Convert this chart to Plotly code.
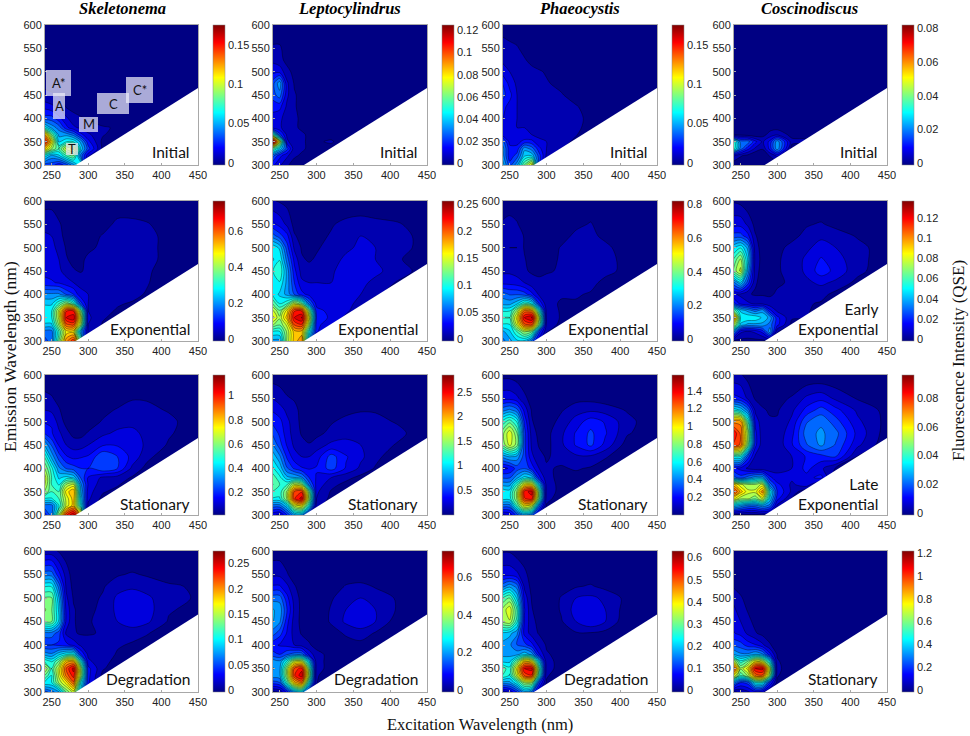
import plotly.graph_objects as go

# grid of the excitation-emission maps (nm)
excitation = [240, 250, 260, 270, 280, 290, 300, 320, 340, 360, 380, 410, 450]
emission = [300, 320, 335, 350, 365, 380, 400, 425, 450, 475, 500, 525, 550, 600]
# blank (unmeasured) corner
blank_ex = [283, 452, 452, 283]
blank_em = [300, 467, 295, 295]

# values: percent of each colour scale, one row per emission wavelength (trailing zeros left out)
skel_initial = [[20,20,15,20,30,40],[40,30,35,45,50,25,10],[70,55,45,60,65,35,20,3],[90,65,35,40,40,30,15,3,2],[75,50,30,30,25,15,10,5,2],[40,30,25,15,10,8,6,5,4,1],[20,20,15,10,6,5,4,2,1,1],[12,10,8,4,3,2,2,1,1,1,1],[5,5,4,3,2,1,1,1],[4,3,3,2,1,1],[3,3,2,1,1],[3,2,1,1],[3,2,1],[1,1]]
lept_initial = [[15,10,5,3,3,1],[25,15,10,5,4,3,2],[50,35,20,6,5,4,3,3,2],[100,60,10,6,5,4,4,5,2],[50,20,8,5,5,4,3,3,1],[12,10,6,5,4,4,3,3,2,1],[12,10,7,5,4,4,3,3,2,1,1],[15,15,8,5,3,3,2,2,1,1,1],[20,25,10,5,3,2,2,1,1,1,1],[20,30,10,4,3,2,1,1,1,1],[12,12,6,3,2,1,1],[8,6,3,2,1],[5,5,3,1],[2,2,1]]
phae_initial = [[35,20,30,50,65,20],[30,15,20,35,35,20,8],[30,15,15,30,25,15,9,5],[25,12,12,15,15,10,9,7,3],[12,10,10,10,9,8,8,7,5],[12,10,9,9,8,8,8,7,6,2],[14,10,9,9,8,8,9,8,7,2],[15,12,9,9,8,8,8,9,5,2,1],[20,15,9,8,7,7,6,5,2,1],[18,12,8,7,7,6,5,3,1],[12,9,7,6,6,5,4,3,1],[8,7,6,5,3,2,1],[7,6,5,3,2,1],[2,1,1]]
cosc_initial = [[1,1],[10,5,3,0,0,5,10],[45,25,15,8,5,15,30,2],[45,25,25,15,8,15,30,6,6],[5,3,2,1,3,6,8,3,2],[2,1,1,1,2,3,3,3,3,1],[1,1,1,0,1,1,1,1,2,1],[1,0,0,0,0,0,0,1,1,1,1],[1,0,0,0,0,0,0,0,1],[1],[1],[1],[1],[0]]

skel_expo = [[20,25,50,75,85,50],[25,25,45,65,65,30,8],[35,35,55,80,82,55,9,4],[40,40,60,90,94,60,10,5,3],[40,40,60,85,85,50,9,6,4,3],[35,35,45,55,45,20,9,6,5,4],[28,28,28,22,18,10,9,8,7,6,4],[15,14,13,11,9,8,9,9,7,6,5,1],[12,12,10,7,5,4,6,8,8,6,5,3,2],[11,11,9,5,3,3,6,7,7,7,6,3,1],[10,10,8,4,2,2,3,6,7,7,6,3,1],[10,9,6,3,2,2,2,5,7,7,6,3,1],[7,7,5,3,1,1,1,2,6,6,5,2,1],[3,3,2,1]]
lept_expo = [[30,30,55,70,75,30],[40,40,55,70,70,40,15],[55,50,60,82,85,55,15,10],[65,55,70,90,95,62,18,12,8],[60,50,65,85,85,52,15,12,10,6],[50,40,45,60,50,25,12,10,10,8],[40,35,30,22,15,12,10,10,10,9,6],[40,40,30,18,10,9,9,9,10,10,8,4],[40,45,30,15,7,6,6,8,12,12,10,7,2],[35,40,25,12,5,4,5,7,10,10,9,5,2],[40,35,20,8,4,3,4,6,8,10,9,6,3],[25,20,15,5,3,3,3,5,7,9,8,6,3],[15,12,8,3,2,1,2,4,6,7,6,5,2],[5,4,3,1,1]]
phae_expo = [[25,30,35,35,25,10],[30,35,45,55,50,20,5],[40,40,60,80,82,50,8,3],[45,45,65,90,95,58,8,4,3],[40,40,55,78,75,42,7,4,3,3],[30,30,35,45,40,18,6,4,4,3],[25,22,22,20,15,8,6,5,5,4,2],[12,12,11,9,6,6,6,6,6,6,3,1],[8,8,7,5,4,3,4,5,7,7,6,3],[8,8,8,5,2,1,3,5,7,7,6,3,1],[8,9,9,4,1,1,1,5,7,7,6,1],[7,8,8,4,1,0,1,2,6,6,3,1],[5,6,5,2,1,0,0,1,3,5,1],[2,2,1]]
cosc_early = [[4,3,3,3,3,3],[30,10,8,10,15,30,5],[60,35,30,30,30,25,15,3],[80,40,40,40,35,30,15,5,5],[50,35,30,25,30,15,8,5,5,3],[20,12,10,8,8,6,6,6,5,4],[10,8,5,4,4,4,5,5,6,6,3],[25,35,20,5,3,3,4,5,8,10,8,3],[50,60,30,6,3,3,4,6,10,16,12,6,1],[45,55,35,7,3,3,4,6,10,14,11,6,2],[35,40,30,6,3,2,3,6,8,11,9,6,2],[20,20,15,5,2,2,2,3,6,8,7,4,2],[12,12,8,3,1,1,1,2,4,5,3,2,1],[4,3,1]]

skel_stat = [[15,25,55,85,95,70],[25,25,40,60,70,40,8],[40,40,45,60,70,35,10,3],[55,45,45,65,72,32,11,5,3],[60,45,40,55,60,28,13,6,5,2],[62,45,35,38,35,22,13,8,7,4,1],[55,42,28,22,20,18,18,22,18,8,3],[45,30,20,14,12,13,14,22,18,12,6,1],[32,22,13,9,7,7,9,13,13,12,8,4],[18,14,10,6,3,3,5,8,10,10,8,5,2],[13,13,7,3,2,1,2,5,7,8,7,6,1],[9,8,5,2,1,1,1,3,5,7,6,4],[6,5,3,1,0,0,0,1,2,4,4,2],[1,1]]
lept_stat = [[10,8,18,30,30,12],[25,25,35,60,65,40,7],[40,40,55,85,92,55,9,3],[45,42,55,82,85,50,10,4,2],[50,45,45,60,55,25,12,6,3,1],[48,42,33,32,28,18,13,9,6,3,1],[42,35,23,17,14,13,14,20,13,8,4],[35,28,17,11,9,9,11,20,14,10,6,1],[28,20,13,8,6,5,7,10,10,9,7,4,1],[22,17,11,7,4,2,3,6,8,9,7,6,1],[17,15,10,7,3,1,1,4,6,7,6,4,1],[13,11,8,6,3,0,0,1,3,4,4,3],[9,7,5,4,1,0,0,0,1,2,2,1],[2,2,1]]
phae_stat = [[8,10,20,30,25,8],[25,25,45,65,60,25,4],[38,38,55,85,88,48,6,2],[40,38,55,88,92,50,7,3],[30,30,45,65,65,35,7,3,2,1],[22,22,30,38,35,15,6,3,3,2,1],[12,14,20,22,16,9,5,4,5,4,2],[28,32,30,20,10,6,4,6,8,8,5,1],[50,60,52,20,8,4,3,8,14,19,12,2],[52,62,50,20,7,3,3,8,14,19,14,5,1],[42,48,40,17,5,2,2,6,11,16,13,6,1],[25,28,24,12,4,1,1,4,7,8,7,4],[12,12,10,6,2,0,0,1,3,3,2,1],[3,3,2]]
cosc_late = [[3,3,3,3,4,3],[35,30,25,25,30,25,8],[65,55,55,50,60,35,15,4],[85,70,60,60,75,40,18,8],[70,60,55,55,60,25,15,8,12],[25,20,25,30,30,15,10,10,12,15],[15,12,8,6,6,6,8,9,15,10,4],[40,40,20,8,5,5,6,9,14,16,18,4],[85,80,50,15,6,5,6,13,22,28,22,10,1],[90,80,55,15,6,5,6,12,25,28,24,12,2],[75,75,45,12,6,5,5,10,22,26,20,10,3],[40,35,25,8,5,4,4,8,15,20,15,8,3],[15,14,8,4,3,2,3,5,10,12,8,4,2],[6,5,3,1,1]]

skel_degr = [[20,25,30,50,60,35],[40,40,55,65,80,40,15],[50,40,60,78,88,55,15,3],[60,45,60,82,92,55,15,5,2],[45,40,50,70,72,40,10,6,3,2],[30,28,35,40,40,18,8,7,4,3],[18,18,17,15,12,8,7,6,5,4,2],[25,25,20,8,5,4,4,5,6,6,5,1],[50,50,35,12,5,3,4,6,9,12,10,4,1],[55,50,35,12,5,3,3,6,10,13,11,5,3],[50,50,32,10,4,3,3,5,10,12,10,6,4],[40,40,25,8,3,2,2,4,7,8,7,5,4],[25,25,15,7,2,1,1,2,4,5,4,3,2],[6,6,4,2]]
lept_degr = [[3,5,15,30,35,15],[20,22,45,70,78,40,5],[30,30,55,85,93,55,5,2],[32,30,55,82,88,50,6,3,1],[30,28,42,60,60,35,6,3,2,1],[20,18,22,25,25,12,6,3,2,1,1],[15,13,12,9,7,5,3,3,3,3,2],[25,20,13,7,4,3,2,3,5,7,4,1],[32,28,15,7,3,2,2,5,10,12,9,2],[32,30,18,8,3,1,1,5,9,11,9,4],[25,25,15,7,3,1,0,4,7,9,7,4],[14,14,10,5,2,0,0,1,5,6,4,1],[8,8,5,2,0,0,0,0,1,1,1],[2,2,1]]
phae_degr = [[6,10,18,30,25,8],[30,30,40,55,55,20,4],[45,40,60,82,85,42,5,2],[48,42,65,90,92,48,6,3,2],[35,35,50,70,65,35,6,3,3,1],[30,30,30,35,30,14,5,3,3,2],[30,28,22,20,15,8,4,3,3,3,2],[35,33,28,12,7,4,3,3,4,4,3],[55,58,42,13,6,3,2,4,9,13,9,1],[55,62,45,14,5,1,1,5,11,13,9,2],[45,50,35,12,4,1,0,5,9,10,8,3],[25,30,25,8,3,0,0,2,4,5,3],[12,12,10,6,2,0,0,0,2,2,1],[4,4,2,1]]
cosc_stat = [[4,5,8,12,10,3],[30,18,20,40,40,18,3],[65,45,55,78,80,52,5,1],[85,55,65,90,92,58,6,1,1],[60,42,50,65,60,38,5,2,1],[32,28,28,32,28,15,4,1,1,1],[22,20,16,14,10,5,2,1,1],[14,12,8,5,3,2,1,1],[12,9,6,3,2,1],[10,7,4,3,1],[8,5,3,2,1],[4,3,2,1],[3,2,1],[1]]

panels = [skel_initial, lept_initial, phae_initial, cosc_initial,
          skel_expo, lept_expo, phae_expo, cosc_early,
          skel_stat, lept_stat, phae_stat, cosc_late,
          skel_degr, lept_degr, phae_degr, cosc_stat]
scale_min = [0,0,0,0, 0,0,0,0, .03,.03,.02,0, 0,0,0,0]
scale_max = [.175,.125,.175,.082, .77,.255,.82,.137, 1.17,2.85,1.58,.096, .275,.74,.63,1.22]
scale_ticks = [[0,.05,.1,.15],[0,.02,.04,.06,.08,.1,.12],[0,.05,.1,.15],[0,.02,.04,.06,.08],
               [0,.2,.4,.6],[0,.05,.1,.15,.2,.25],[0,.2,.4,.6,.8],[0,.02,.04,.06,.08,.1,.12],
               [.2,.4,.6,.8,1],[.5,1,1.5,2,2.5],[.2,.4,.6,.8,1,1.2,1.4],[0,.02,.04,.06,.08],
               [0,.05,.1,.15,.2,.25],[0,.2,.4,.6],[0,.1,.2,.3,.4,.5,.6],[0,.2,.4,.6,.8,1,1.2]]
species = ["Skeletonema", "Leptocylindrus", "Phaeocystis", "Coscinodiscus"]
phase_labels = ["Initial","Initial","Initial","Initial",
                "Exponential","Exponential","Exponential","Early<br>Exponential",
                "Stationary","Stationary","Stationary","Late<br>Exponential",
                "Degradation","Degradation","Degradation","Stationary"]
region_labels = ["A*", "A", "M", "C", "C*", "T"]

# layout in window pixels
W, H = 970, 736
col_x = [(45, 198), (273, 427), (503, 657), (734, 887)]
bar_x = [213, 442, 672, 902]
row_y = [(25, 165), (201, 341), (375, 515), (551, 692)]
label_right = [191, 419, 649, 879]
label_mid = [152, 329, 504, 679]
title_x = [122, 349, 579, 809]
region_boxes = [(46,71,70,96),(53,65,93,119),(79,98,117,132),(97,129,93,114),(126,153,77,103),(66,78,143,155)]
jet = [[0,'rgb(0,0,131)'],[.125,'rgb(0,0,255)'],[.375,'rgb(0,255,255)'],[.625,'rgb(255,255,0)'],[.875,'rgb(255,0,0)'],[1,'rgb(128,0,0)']]
TICK = dict(family="Liberation Sans, Arial", size=11, color="#222")
SERIF = "Liberation Serif, Times New Roman"
LABEL = "Lato, Open Sans"

def fx(px): return px / W
def fy(py): return 1 - py / H

fig = go.Figure()
layout = {}
notes = []
shapes = []

for i, grid in enumerate(panels):
    r, c = divmod(i, 4)
    n = i + 1
    lo, hi = scale_min[i], scale_max[i]
    z = []
    for row in grid:
        full = list(row) + [0] * (len(excitation) - len(row))
        z.append([lo + v * (hi - lo) / 100 for v in full])
    step = (hi - lo) * 0.045
    xa, ya = f"x{n}", f"y{n}"
    fig.add_trace(go.Contour(
        x=excitation, y=emission, z=z, xaxis=xa, yaxis=ya, colorscale=jet, showscale=False,
        contours=dict(coloring="fill", start=lo + step, end=hi, size=step),
        line=dict(color="rgba(0,0,0,0.75)", width=0.5, smoothing=0.9),
        hoverinfo="skip"))
    fig.add_trace(go.Scatter(
        x=blank_ex, y=blank_em, xaxis=xa, yaxis=ya, mode="lines", fill="toself",
        fillcolor="white", line=dict(width=0, color="white"), hoverinfo="skip", showlegend=False))
    # smooth colour bar, carried by two fully transparent markers
    fig.add_trace(go.Scatter(
        x=excitation[:2], y=emission[:2], xaxis=xa, yaxis=ya, mode="markers", hoverinfo="skip", showlegend=False,
        marker=dict(size=1, opacity=0, color=[lo, hi], colorscale=jet, cmin=lo - 0.015 * (hi - lo), cmax=hi,
                    showscale=True, colorbar=dict(
                        x=fx(bar_x[c]), xanchor="left", xpad=0, ypad=0, thickness=11.5,
                        y=fy(row_y[r][1]), yanchor="bottom", lenmode="fraction",
                        len=(row_y[r][1] - row_y[r][0]) / H,
                        tickvals=scale_ticks[i], tickformat="~g", ticks="", tickfont=TICK,
                        outlinecolor="#888", outlinewidth=0.5))))
    sfx = "" if n == 1 else str(n)
    axis = dict(showgrid=False, zeroline=False, showline=True, linecolor="#a8a8a8", linewidth=1,
                mirror=True, ticks="inside", ticklen=2, tickcolor="#a8a8a8", tickfont=TICK)
    layout["xaxis" + sfx] = dict(axis, domain=[fx(col_x[c][0]), fx(col_x[c][1])], range=[241, 450],
                                 tickvals=[250, 300, 350, 400, 450], anchor=ya)
    layout["yaxis" + sfx] = dict(axis, domain=[fy(row_y[r][1]), fy(row_y[r][0])], range=[300, 600],
                                 tickvals=[300, 350, 400, 450, 500, 550, 600], anchor=xa)
    notes.append(dict(x=fx(label_right[c]), y=fy(label_mid[r] - (10 if "<br>" in phase_labels[i] else 0)),
                      text=phase_labels[i], align="right", xanchor="right", yanchor="middle",
                      font=dict(family=LABEL, size=15.5, color="#111")))

for k, name in enumerate(species):
    notes.append(dict(x=fx(title_x[k]), y=fy(9), text=f"<b><i>{name}</i></b>", xanchor="center",
                      yanchor="middle", font=dict(family=SERIF, size=16.5, color="#000")))
for text, (x0, x1, y0, y1) in zip(region_labels, region_boxes):
    shapes.append(dict(type="rect", xref="paper", yref="paper", x0=fx(x0), x1=fx(x1), y0=fy(y1), y1=fy(y0),
                       fillcolor="rgba(235,235,250,0.72)", line=dict(width=0), layer="above"))
    notes.append(dict(x=fx((x0 + x1) / 2), y=fy((y0 + y1) / 2), text=text, xanchor="center", yanchor="middle",
                      font=dict(family=LABEL, size=13, color="#111")))
notes.append(dict(x=fx(480), y=fy(724), text="Excitation Wavelength (nm)", xanchor="center", yanchor="middle",
                  font=dict(family=SERIF, size=16.5, color="#111")))
notes.append(dict(x=fx(10), y=fy(357), text="Emission Wavelength (nm)", textangle=-90, xanchor="center", yanchor="middle",
                  font=dict(family=SERIF, size=17.5, color="#111")))
notes.append(dict(x=fx(958), y=fy(361), text="Fluorescence Intensity (QSE)", textangle=-90, xanchor="center", yanchor="middle",
                  font=dict(family=SERIF, size=17, color="#111")))
for a in notes:
    a.update(xref="paper", yref="paper", showarrow=False, borderpad=0)

fig.update_layout(width=W, height=H, margin=dict(l=0, r=0, t=0, b=0, autoexpand=False), paper_bgcolor="white",
                  plot_bgcolor="white", showlegend=False, annotations=notes, shapes=shapes, **layout)
fig.write_html("out.html", post_script="document.body.style.margin='0';", config=dict(displayModeBar=False))
